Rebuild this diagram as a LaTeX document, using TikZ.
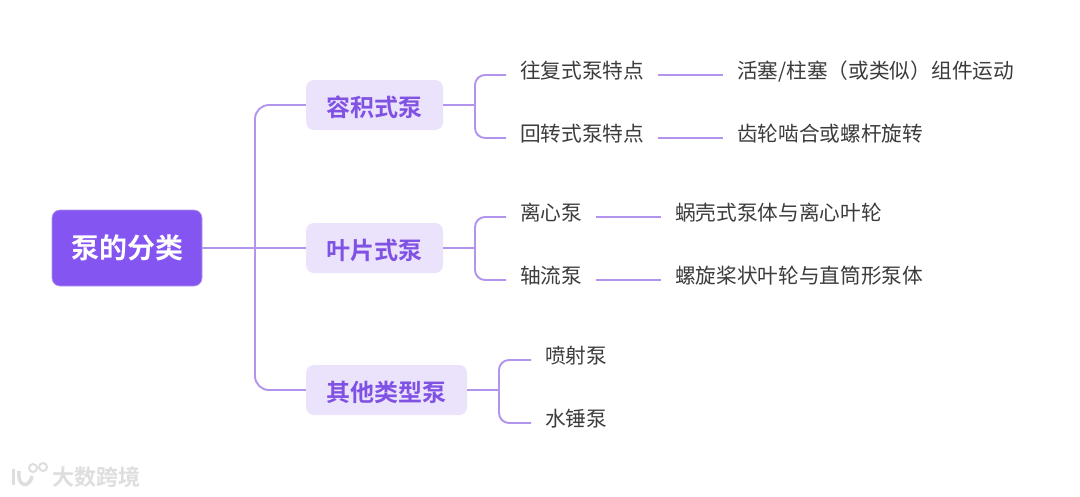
\documentclass[tikz,border=0pt]{standalone}
\usepackage{fontspec}
\setmainfont{Noto Sans CJK SC}
\newfontfamily\cjkbold{Noto Sans CJK SC Bold}
\definecolor{rootfill}{HTML}{8455F1}
\definecolor{subfill}{HTML}{EBE2FC}
\definecolor{subtext}{HTML}{8052E4}
\definecolor{linkc}{HTML}{B294EE}
\definecolor{leaftext}{HTML}{3C3C3C}
\definecolor{wmark}{HTML}{DEDEDE}
\tikzset{
  x=1pt,y=-1pt,
  rootbox/.style={fill=rootfill,draw=linkc,line width=0.6pt,rounded corners=8pt,minimum width=150pt,minimum height=76pt,inner sep=0pt,text=white,font=\cjkbold\fontsize{28}{32}\selectfont},
  subbox/.style={fill=subfill,rounded corners=8pt,minimum height=50pt,inner sep=0pt,text=subtext,text height=24pt,text depth=2pt,font=\cjkbold\fontsize{24}{28}\selectfont},
  leaf/.style={anchor=west,inner xsep=14pt,inner ysep=0pt,text=leaftext,text height=18pt,text depth=12pt,font=\fontsize{20.67}{24}\selectfont},
  link/.style={draw=linkc,line width=1.9pt},
  thinlink/.style={draw=linkc,line width=1.6pt},
  trunk/.style={link,rounded corners=14pt},
  fork/.style={link,rounded corners=10pt},
}
\begin{document}
\begin{tikzpicture}
\useasboundingbox (0,0) rectangle (1080,496);
\fill[white] (0,0) rectangle (1080,496);

\node[rootbox] (root) at (127,248) {泵的分类};
\node[subbox,minimum width=137pt] (s1) at (374.5,105) {容积式泵};
\node[subbox,minimum width=137pt] (s2) at (374.5,248) {叶片式泵};
\node[subbox,minimum width=161pt] (s3) at (386.5,390) {其他类型泵};

\coordinate (t0) at (255,248);
\coordinate (f1) at (475,105);
\coordinate (f2) at (475,248);
\coordinate (f3) at (499,390);

\node[leaf] (a1) at (506,75) {往复式泵特点};
\node[leaf] (a2) at (506,138) {回转式泵特点};
\node[leaf] (b1) at (506,217) {离心泵};
\node[leaf] (b2) at (506,280) {轴流泵};
\node[leaf] (c1) at (531,360) {喷射泵};
\node[leaf] (c2) at (531,423) {水锤泵};

\node[leaf] (a1d) at (723,75) {活塞/柱塞（或类似）组件运动};
\node[leaf] (a2d) at (723,138) {齿轮啮合或螺杆旋转};
\node[leaf] (b1d) at (661,217) {蜗壳式泵体与离心叶轮};
\node[leaf] (b2d) at (661,280) {螺旋桨状叶轮与直筒形泵体};

\draw[link] (root.east) -- (s2.west);
\draw[trunk] (s1.west) -| (t0);
\draw[trunk] (s3.west) -| (t0);

\draw[link] (s1.east) -- (f1);
\draw[link] (s2.east) -- (f2);
\draw[link] (s3.east) -- (f3);
\draw[fork] (a1.west) -| (f1);
\draw[fork] (a2.west) -| (f1);
\draw[fork] (b1.west) -| (f2);
\draw[fork] (b2.west) -| (f2);
\draw[fork] (c1.west) -| (f3);
\draw[fork] (c2.west) -| (f3);

\draw[thinlink] (a1.east) -- (a1d.west);
\draw[thinlink] (a2.east) -- (a2d.west);
\draw[thinlink] (b1.east) -- (b1d.west);
\draw[thinlink] (b2.east) -- (b2d.west);

% watermark
\node[anchor=west,inner sep=0pt,text=wmark,font=\cjkbold\fontsize{22}{24}\selectfont] (wm) at (52,477) {大数跨境};
\draw[wmark,line width=3pt] (13,469) -- (13,485);
\draw[wmark,line width=3.5pt] (19,471) .. controls (17,488) and (30,488) .. (32,476);
\draw[wmark,line width=2pt] (33,468) circle[radius=4];
\draw[wmark,line width=2pt] (43,467) circle[radius=4];
\end{tikzpicture}
\end{document}
